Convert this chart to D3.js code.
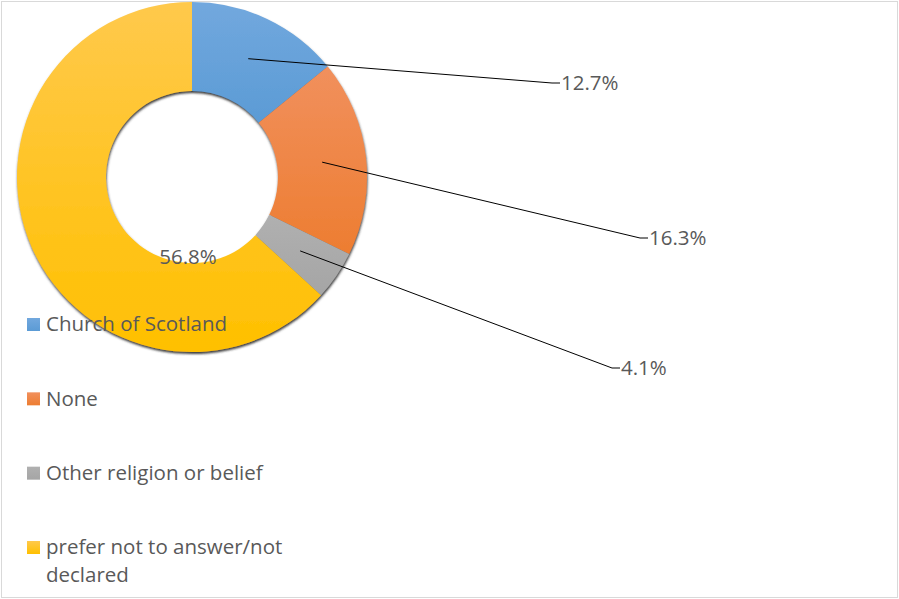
<!DOCTYPE html>
<html>
<head>
<meta charset="utf-8">
<script src="https://cdn.jsdelivr.net/npm/d3@7"></script>
<style>
  body { margin: 0; background: #fff; }
  text { font-family: "Open Sans", sans-serif; fill: #595959; }
</style>
</head>
<body>
<svg id="chart" width="899" height="599"></svg>
<script>
// data
var categories = ['Church of Scotland', 'None', 'Other religion or belief', 'prefer not to answer/not declared'];
var values = [12.7, 16.3, 4.1, 56.8];
var legendLines = [['Church of Scotland'], ['None'], ['Other religion or belief'], ['prefer not to answer/not', 'declared']];
var colorsTop = ['#72a8de', '#f1905d', '#b0b0b0', '#ffc94c'];
var colorsBottom = ['#5b9bd5', '#ed7d31', '#a5a5a5', '#ffc000'];

var svg = d3.select('#chart');
var cx = 192, cy = 177, outerR = 175, innerR = 86;
var fontSize = '20.5px';

var defs = svg.append('defs');
categories.forEach(function(c, i) {
  var g = defs.append('linearGradient').attr('id', 'grad' + i)
    .attr('x1', 0).attr('y1', 0).attr('x2', 0).attr('y2', 1);
  g.append('stop').attr('offset', '0%').attr('stop-color', colorsTop[i]);
  g.append('stop').attr('offset', '100%').attr('stop-color', colorsBottom[i]);
});
var shadow = defs.append('filter').attr('id', 'shadow')
  .attr('x', '-10%').attr('y', '-10%').attr('width', '120%').attr('height', '120%');
shadow.append('feDropShadow').attr('dx', 0.5).attr('dy', 2).attr('stdDeviation', 0.9)
  .attr('flood-color', '#333').attr('flood-opacity', 0.95);

// chart frame
svg.append('rect').attr('x', 1.5).attr('y', 1.5).attr('width', 896).attr('height', 596)
  .attr('fill', 'none').attr('stroke', '#d9d9d9').attr('stroke-width', 1);

var pie = d3.pie().sort(null).value(function(d) { return d; });
var arcs = pie(values);
var arc = d3.arc().innerRadius(innerR).outerRadius(outerR);
var midArc = d3.arc().innerRadius(131).outerRadius(131);

var g = svg.append('g').attr('transform', 'translate(' + cx + ',' + cy + ')');

var ring = g.append('g').attr('filter', 'url(#shadow)');
ring.selectAll('path.slice').data(arcs).enter().append('path')
  .attr('class', 'slice')
  .attr('d', arc)
  .attr('fill', function(d, i) { return 'url(#grad' + i + ')'; });

// data labels: leader line end (absolute) for outside labels
var labelPos = [
  { x: 552, y: 83, lead: true },
  { x: 640, y: 238, lead: true },
  { x: 612, y: 368, lead: true },
  { x: 188, y: 257, lead: false }
];

arcs.forEach(function(d, i) {
  var p = labelPos[i];
  var c = midArc.centroid(d);
  if (p.lead) {
    svg.append('polyline')
      .attr('points', [[cx + c[0], cy + c[1]], [p.x, p.y], [p.x + 8, p.y]].map(function(q) { return q.join(','); }).join(' '))
      .attr('fill', 'none').attr('stroke', '#000').attr('stroke-width', 1);
    svg.append('text').attr('x', p.x + 9).attr('y', p.y).attr('dy', '0.35em')
      .style('font-size', fontSize).text(d3.format('.1f')(values[i]) + '%');
  } else {
    svg.append('text').attr('x', p.x).attr('y', p.y).attr('dy', '0.35em')
      .attr('text-anchor', 'middle')
      .style('font-size', fontSize).text(d3.format('.1f')(values[i]) + '%');
  }
});

// legend
var legendY = d3.scalePoint().domain(categories).range([324, 547]);
var legend = svg.append('g').selectAll('g').data(categories).enter().append('g')
  .attr('transform', function(d) { return 'translate(27,' + legendY(d) + ')'; });
legend.append('rect').attr('x', 0).attr('y', -6).attr('width', 13).attr('height', 13)
  .attr('fill', function(d, i) { return 'url(#grad' + i + ')'; });
legend.append('text').attr('x', 19).attr('y', 0)
  .style('font-size', fontSize)
  .each(function(d, i) {
    var t = d3.select(this);
    legendLines[i].forEach(function(line, j) {
      t.append('tspan').attr('x', 19).attr('dy', j === 0 ? '0.35em' : '28px').text(line);
    });
  });
</script>
</body>
</html>
